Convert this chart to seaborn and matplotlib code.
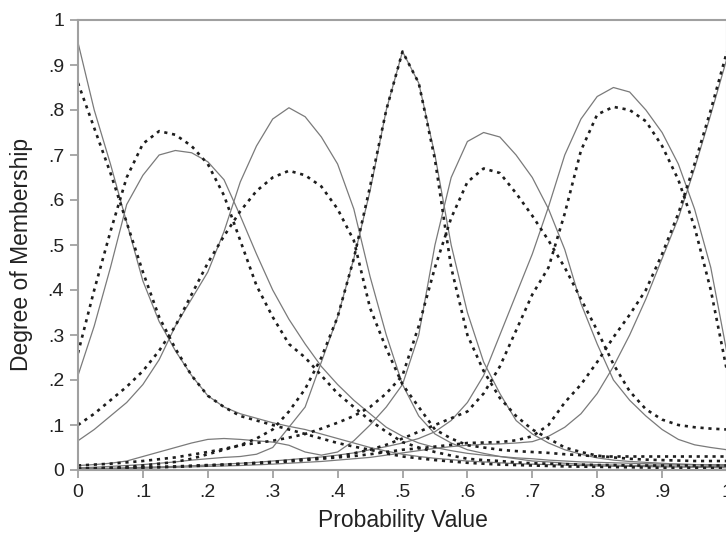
import numpy as np
import pandas as pd
import matplotlib
matplotlib.use("Agg")
import matplotlib.pyplot as plt
import seaborn as sns

# x grid (probability value)
prob = [0.000, 0.025, 0.050, 0.075, 0.100, 0.125, 0.150, 0.175, 0.200, 0.225,
        0.250, 0.275, 0.300, 0.325, 0.350, 0.375, 0.400, 0.425, 0.450, 0.475,
        0.500, 0.525, 0.550, 0.575, 0.600, 0.625, 0.650, 0.675, 0.700, 0.725,
        0.750, 0.775, 0.800, 0.825, 0.850, 0.875, 0.900, 0.925, 0.950, 0.975, 1.000]

# solid (gray) membership curves
solid_a = [.95, .80, .68, .55, .42, .33, .265, .21, .165, .14, .125, .115, .105, .097, .09, .08, .07, .06, .05, .042,
           .035, .03, .026, .023, .02, .018, .016, .014, .013, .012, .011, .010, .009, .0085, .008, .0075, .007, .0065, .006, .0055, .005]
solid_b = [.21, .32, .45, .59, .655, .70, .71, .705, .685, .645, .565, .48, .40, .335, .28, .23, .19, .155, .125, .095,
           .075, .06, .05, .043, .037, .033, .03, .027, .025, .022, .02, .018, .017, .016, .015, .014, .013, .013, .012, .012, .012]
solid_c = [.065, .09, .12, .15, .19, .245, .32, .38, .44, .53, .64, .72, .78, .805, .785, .74, .68, .58, .43, .30,
           .19, .12, .08, .06, .045, .037, .03, .025, .02, .018, .015, .013, .012, .011, .01, .01, .009, .009, .008, .008, .008]
solid_d = [.005, .006, .008, .01, .012, .015, .018, .022, .025, .028, .03, .035, .05, .095, .14, .24, .34, .47, .62, .80,
           .93, .86, .70, .50, .35, .24, .17, .11, .08, .06, .045, .035, .027, .022, .019, .017, .015, .013, .012, .011, .01]
solid_e = [.01, .012, .015, .02, .03, .04, .05, .06, .068, .07, .068, .065, .062, .055, .04, .033, .04, .065, .10, .14,
           .19, .30, .50, .65, .73, .75, .74, .70, .65, .58, .49, .37, .28, .20, .155, .12, .09, .068, .056, .05, .045]
solid_f = [.003, .0035, .004, .005, .006, .007, .008, .0095, .011, .013, .015, .017, .02, .023, .026, .029, .033, .038, .045, .052,
           .06, .07, .085, .11, .15, .21, .30, .39, .48, .585, .70, .78, .83, .85, .84, .80, .75, .68, .58, .45, .26]
solid_g = [.002, .0025, .003, .0035, .004, .005, .006, .007, .008, .009, .01, .0115, .013, .015, .017, .019, .022, .025, .028, .033,
           .038, .043, .048, .052, .055, .057, .058, .06, .063, .075, .095, .125, .17, .23, .30, .38, .47, .56, .67, .79, .915]

# dotted (black) membership curves
dot_a = [.86, .76, .66, .55, .44, .34, .27, .21, .165, .14, .12, .11, .10, .09, .08, .07, .06, .052, .045, .037,
         .03, .026, .022, .019, .016, .014, .012, .011, .01, .009, .008, .0075, .007, .0065, .006, .0055, .005, .005, .005, .0045, .004]
dot_b = [.26, .40, .53, .65, .725, .753, .745, .72, .68, .61, .51, .41, .34, .28, .25, .21, .17, .14, .11, .085,
         .062, .05, .04, .032, .025, .022, .02, .017, .015, .014, .013, .012, .011, .011, .01, .01, .01, .01, .01, .01, .01]
dot_c = [.10, .125, .155, .185, .22, .265, .32, .39, .46, .52, .575, .62, .65, .665, .655, .63, .58, .51, .36, .27,
         .19, .14, .09, .07, .055, .05, .045, .042, .04, .038, .035, .033, .03, .03, .03, .03, .03, .03, .03, .03, .03]
dot_d = [.01, .012, .014, .017, .02, .024, .028, .034, .04, .047, .055, .07, .09, .13, .18, .25, .34, .47, .63, .80,
         .93, .86, .69, .45, .30, .22, .16, .12, .09, .07, .05, .04, .032, .028, .025, .023, .022, .021, .02, .02, .02]
dot_e = [.003, .004, .005, .007, .01, .014, .018, .025, .035, .045, .055, .06, .065, .072, .08, .092, .105, .12, .14, .17,
         .21, .32, .45, .56, .64, .67, .66, .615, .565, .51, .45, .38, .31, .235, .175, .135, .112, .10, .095, .092, .09]
dot_f = [.003, .0035, .004, .005, .006, .007, .008, .0095, .011, .012, .014, .016, .018, .021, .024, .027, .03, .037, .045, .056,
         .07, .085, .10, .115, .13, .17, .23, .31, .39, .45, .57, .71, .79, .807, .80, .775, .72, .645, .54, .40, .22]
dot_g = [.002, .0025, .003, .004, .005, .006, .007, .0085, .01, .0115, .013, .015, .017, .019, .022, .025, .028, .031, .035, .04,
         .045, .048, .052, .056, .06, .061, .062, .066, .075, .10, .15, .19, .24, .295, .345, .40, .48, .57, .68, .80, .93]

x_ticks = [0, .1, .2, .3, .4, .5, .6, .7, .8, .9, 1]
x_tick_labels = ["0", ".1", ".2", ".3", ".4", ".5", ".6", ".7", ".8", ".9", "1"]
y_ticks = [0, .1, .2, .3, .4, .5, .6, .7, .8, .9, 1]
y_tick_labels = ["0", ".1", ".2", ".3", ".4", ".5", ".6", ".7", ".8", ".9", "1"]

sns.set_style("white")
plt.rcParams['font.family'] = ['Liberation Sans', 'DejaVu Sans']

fig = plt.figure(figsize=(7.26, 5.38), dpi=100)
ax = fig.add_axes([78 / 726, 1 - 470 / 538, 649 / 726, 450 / 538])

solids = [solid_a, solid_b, solid_c, solid_d, solid_e, solid_f, solid_g]
dots = [dot_a, dot_b, dot_c, dot_d, dot_e, dot_f, dot_g]

for s in solids:
    sns.lineplot(x=prob, y=s, ax=ax, color="#7a7a7a", linewidth=0.9, linestyle="-")
for d in dots:
    sns.lineplot(x=prob, y=d, ax=ax, color="#1e1e1e", linewidth=1.9,
                 linestyle=(0, (1.2, 1.8)))

ax.set_xlim(0, 1)
ax.set_ylim(0, 1)
ax.set_xticks(x_ticks)
ax.set_xticklabels(x_tick_labels)
ax.set_yticks(y_ticks)
ax.set_yticklabels(y_tick_labels)
ax.tick_params(axis="both", which="major", labelsize=14, length=6, width=1.2,
               color="#999999", direction="out", pad=4, labelcolor="#222222")
ax.tick_params(axis="x", bottom=True)
ax.tick_params(axis="y", left=True)
for side in ["left", "bottom", "top", "right"]:
    ax.spines[side].set_color("#a0a0a0")
    ax.spines[side].set_linewidth(1.5)
    ax.spines[side].set_visible(True)

ax.set_xlabel("Probability Value", fontsize=16.5, color="#222222", labelpad=6)
ax.set_ylabel("Degree of Membership", fontsize=16.5, color="#222222")
ax.yaxis.set_label_coords(-0.07, 0.478)

fig.savefig("out.png", dpi=100)
